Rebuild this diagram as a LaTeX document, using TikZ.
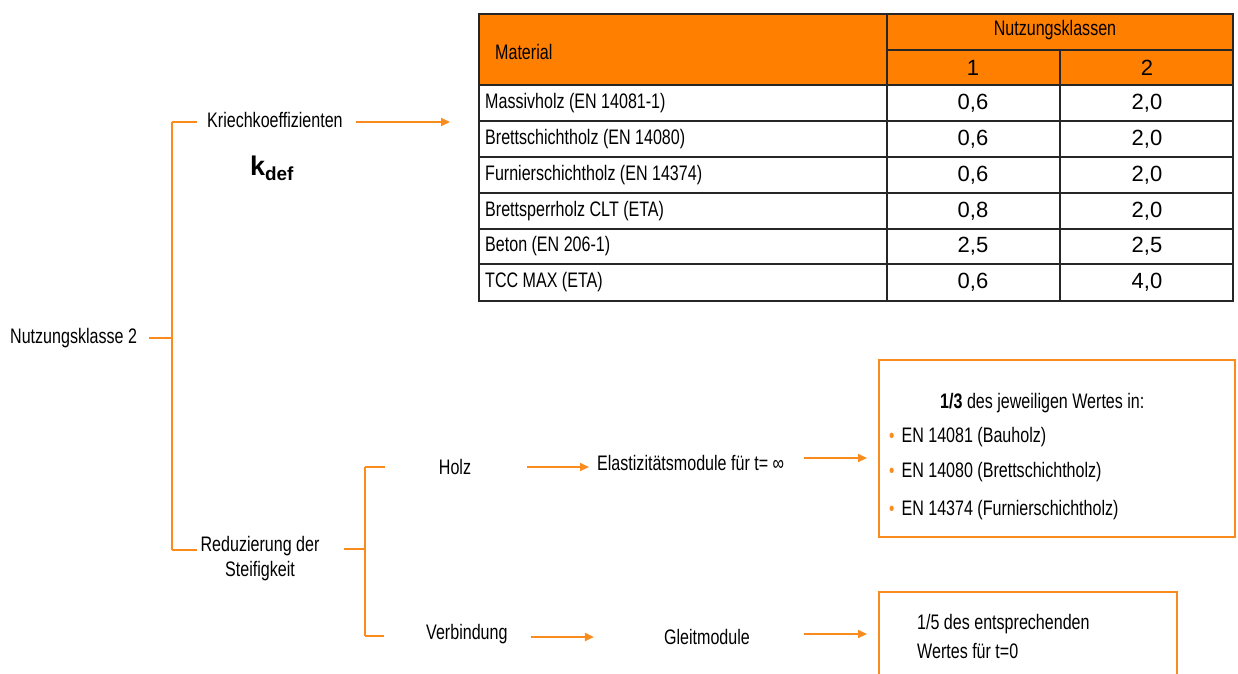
\documentclass[tikz,border=0pt]{standalone}
\usepackage{fontspec}
\setmainfont{Liberation Sans}[FakeStretch=0.765]
\newfontfamily\numfont{Liberation Sans}
\usetikzlibrary{arrows.meta}
\definecolor{ncorange}{RGB}{255,128,0}
\definecolor{lnorange}{RGB}{250,140,30}
\newcommand{\bul}{{\color{lnorange}\fontsize{20}{20}\selectfont\textbullet}\hspace{7pt}}

\tikzset{
  ln/.style={draw=lnorange, line width=2pt},
  arr/.style={ln, -{Triangle[length=9pt,width=8pt]}},
  txt/.style={font=\fontsize{21}{25}\selectfont, inner sep=0pt},
  num/.style={font=\numfont\fontsize{22}{26}\selectfont, inner sep=0pt},
  box/.style={draw=lnorange, line width=2pt, inner sep=0pt},
  grid/.style={draw=black!85, line width=1.5pt}
}

\begin{document}
\begin{tikzpicture}[x=1pt, y=-1pt]
  \useasboundingbox (0,0) rectangle (1238,673);
  \clip (0,0) rectangle (1238,673);

  % table
  \fill[ncorange] (478,13) rectangle (1232,85);
  \node[grid, anchor=north west, minimum width=754pt, minimum height=287pt, inner sep=0pt] (tab) at (478,13) {};
  \draw[grid] (887,50) -- (1232,50);
  \foreach \yy in {85,121,157,193,229,264}
    \draw[grid] (478,\yy) -- (1232,\yy);
  \draw[grid] (887,13) -- (887,300);
  \draw[grid] (1060,50) -- (1060,300);

  \draw (495,52) node[txt, anchor=west] (mat) {Material};
  \draw (1055,30) node[txt] (nkl) {Nutzungsklassen};
  \draw (973,68) node[num] (nk1) {1};
  \draw (1147,68) node[num] (nk2) {2};

  \foreach \yy/\name/\a/\b in {103/Massivholz (EN 14081-1)/{0,6}/{2,0},
                               139/Brettschichtholz (EN 14080)/{0,6}/{2,0},
                               175/Furnierschichtholz (EN 14374)/{0,6}/{2,0},
                               211/Brettsperrholz CLT (ETA)/{0,8}/{2,0},
                               246/Beton (EN 206-1)/{2,5}/{2,5},
                               282/TCC MAX (ETA)/{0,6}/{4,0}}{
    \draw (485,\yy) node[txt, anchor=west] (row\yy) {\name};
    \draw (973,\yy) node[num] (a\yy) {\a};
    \draw (1147,\yy) node[num] (b\yy) {\b};
  }

  % left tree
  \draw (10,338) node[txt, anchor=west] (nk) {Nutzungsklasse 2};
  \draw (207,120) node[txt, anchor=west] (krie) {Kriechkoeffizienten};
  \draw (272,168) node[font=\numfont\bfseries\fontsize{27}{27}\selectfont, inner sep=0pt] (kdef) {k\textsubscript{def}};
  \draw (260,559) node[txt, align=center] (red) {Reduzierung der\\Steifigkeit};

  \coordinate (brAt) at (172,122);
  \coordinate (brAm) at (172,338);
  \coordinate (brAb) at (172,550);
  \path (brAt) edge[ln] (brAb);
  \path (nk.east) edge[ln, shorten <=12pt] (brAm);
  \path (brAt) edge[ln, shorten >=10pt] (brAt -| krie.west);
  \path (brAb) edge[ln, shorten >=3pt] (brAb -| red.west);
  \path ([yshift=-2pt]krie.east) edge[arr, shorten <=13pt, shorten >=28pt] ([yshift=-2pt]krie.east -| tab.west);

  \draw (455,467) node[txt] (holz) {Holz};
  \draw (426,634) node[txt, anchor=west] (verb) {Verbindung};
  \draw (597,463) node[txt, anchor=west] (elast) {Elastizitätsmodule für t= ∞};
  \draw (707,637) node[txt] (gleit) {Gleitmodule};

  \coordinate (brBt) at (365,467);
  \coordinate (brBm) at (365,549);
  \coordinate (brBb) at (365,636);
  \path (brBt) edge[ln] (brBb);
  \path (red.east |- brBm) edge[ln, shorten <=24pt] (brBm);
  \path (brBt) edge[ln, shorten >=54pt] (brBt -| holz.west);
  \path (brBb) edge[ln, shorten >=42pt] (brBb -| verb.west);

  \node[box, anchor=north west, minimum width=356pt, minimum height=177pt] (box1) at (878,359) {};
  \node[box, anchor=north west, minimum width=298pt, minimum height=120pt] (box2) at (878,591) {};

  \path (holz.east) edge[arr, shorten <=56pt, shorten >=8pt] (holz.east -| elast.west);
  \path ([yshift=5pt]elast.east) edge[arr, shorten <=20pt, shorten >=11pt] ([yshift=5pt]elast.east -| box1.west);
  \path ([yshift=-3pt]verb.east) edge[arr, shorten <=23pt, shorten >=70pt] ([yshift=-3pt]verb.east -| gleit.west);
  \path ([yshift=3pt]gleit.east) edge[arr, shorten <=54pt, shorten >=11pt] ([yshift=3pt]gleit.east -| box2.west);

  \draw (940,403) node[txt, anchor=west] (drittel) {\textbf{1/3} des jeweiligen Wertes in:};
  \draw (889,437) node[txt, anchor=west] (en1) {\bul EN 14081 (Bauholz)};
  \draw (889,472) node[txt, anchor=west] (en2) {\bul EN 14080 (Brettschichtholz)};
  \draw (889,510) node[txt, anchor=west] (en3) {\bul EN 14374 (Furnierschichtholz)};
  \draw (917,636) node[txt, anchor=west, align=left, font=\fontsize{21}{29}\selectfont] (fuenftel) {1/5 des entsprechenden\\Wertes für t=0};
\end{tikzpicture}
\end{document}
